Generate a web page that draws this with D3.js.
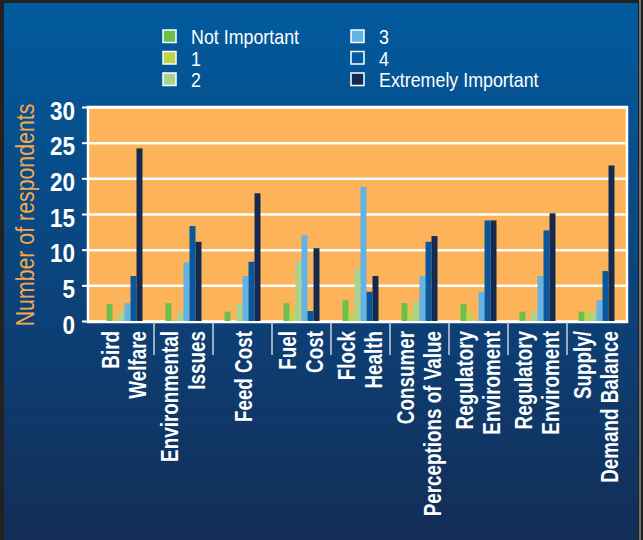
<!DOCTYPE html>
<html>
<head>
<meta charset="utf-8">
<script src="https://cdn.jsdelivr.net/npm/d3@7"></script>
<style>
  html, body { margin: 0; padding: 0; background: #222; }
  svg { display: block; }
  text { font-family: "Liberation Sans", Arial, sans-serif; }
</style>
</head>
<body>
<svg id="chart" width="643" height="540"></svg>
<script>
// Survey: importance of each factor, number of respondents per rating
const categories = [
  ["Bird", "Welfare"],
  ["Environmental", "Issues"],
  ["Feed Cost"],
  ["Fuel", "Cost"],
  ["Flock", "Health"],
  ["Consumer", "Perceptions of Value"],
  ["Regulatory", "Enviroment"],
  ["Regulatory", "Enviroment"],
  ["Supply/", "Demand Balance"]
];

const seriesNames = ["Not Important", "1", "2", "3", "4", "Extremely Important"];

const notImportant = [2.4, 2.5, 1.3, 2.5, 2.9, 2.5, 2.4, 1.3, 1.3];
const rating1      = [0.2, 0.2, 0.0, 1.4, 1.3, 1.3, 1.3, 0.2, 1.3];
const rating2      = [1.3, 1.3, 2.5, 8.4, 7.3, 2.8, 0.2, 1.3, 1.3];
const rating3      = [2.5, 8.2, 6.3, 12.0, 18.8, 6.3, 4.1, 6.3, 2.9];
const rating4      = [6.3, 13.3, 8.3, 1.4, 4.1, 11.1, 14.1, 12.7, 7.0];
const extremely    = [24.2, 11.1, 17.9, 10.2, 6.3, 11.9, 14.1, 15.1, 21.8];

const yTicks = [0, 5, 10, 15, 20, 25, 30];
const yTitle = "Number of respondents";

const seriesValues = [notImportant, rating1, rating2, rating3, rating4, extremely];
const seriesColors = ["#6cbf4a", "#bdd54a", "#a9d390", "#63b3e4", "#07589e", "#142a50"];

const W = 643, H = 540;
const plot = { left: 88, right: 627, top: 107, bottom: 321 };
const barWidth = 6;

const svg = d3.select("#chart");
const defs = svg.append("defs");
const grad = defs.append("linearGradient")
  .attr("id", "bg").attr("x1", 0).attr("y1", 0).attr("x2", 0).attr("y2", 1);
grad.append("stop").attr("offset", 0).attr("stop-color", "#015b9e");
grad.append("stop").attr("offset", 0.55).attr("stop-color", "#0c427a");
grad.append("stop").attr("offset", 1).attr("stop-color", "#132d56");

// dark outer frame and blue panel
svg.append("rect").attr("width", W).attr("height", H).attr("fill", "#222222");
svg.append("rect").attr("x", 4).attr("y", 3).attr("width", 634).attr("height", H - 3)
  .attr("fill", "url(#bg)");
svg.append("line").attr("x1", 640).attr("x2", 640).attr("y1", 0).attr("y2", H)
  .attr("stroke", "#8c8c8c").attr("stroke-width", 1.5);

// scales
const x = d3.scaleBand().domain(d3.range(categories.length)).range([95, 626]);
const nSeries = seriesNames.length;
const xs = d3.scaleBand().domain(d3.range(nSeries))
  .range([0, x.bandwidth()])
  .paddingOuter((x.bandwidth() / barWidth - nSeries) / 2);
const y = d3.scaleLinear().domain([0, 30]).range([plot.bottom, plot.top]);

// plot area
svg.append("rect")
  .attr("x", plot.left).attr("y", plot.top)
  .attr("width", plot.right - plot.left).attr("height", plot.bottom - plot.top)
  .attr("fill", "#fcb35a");

// gridlines
const grid = svg.append("g").attr("transform", `translate(${plot.left},0)`)
  .call(d3.axisLeft(y).tickValues(yTicks).tickSize(-(plot.right - plot.left)).tickFormat(""));
grid.select(".domain").remove();
grid.selectAll(".tick line").attr("stroke", "#ffffff").attr("stroke-width", 2.5);

// frame
svg.append("rect")
  .attr("x", plot.left).attr("y", plot.top)
  .attr("width", plot.right - plot.left).attr("height", plot.bottom - plot.top + 1)
  .attr("fill", "none").attr("stroke", "#ffffff").attr("stroke-width", 2.5);

// bars
const groups = svg.append("g").selectAll("g")
  .data(categories.map((c, i) => i))
  .join("g")
  .attr("transform", i => `translate(${x(i)},0)`);
groups.selectAll("rect")
  .data(i => seriesValues.map((vals, s) => ({ s, v: vals[i] })))
  .join("rect")
  .attr("x", d => xs(d.s))
  .attr("width", xs.bandwidth())
  .attr("y", d => y(d.v))
  .attr("height", d => y(0) - y(d.v))
  .attr("fill", d => seriesColors[d.s]);

// y axis ticks and labels
const yAxis = svg.append("g").attr("transform", `translate(${plot.left},0)`)
  .call(d3.axisLeft(y).tickValues(yTicks).tickSize(6).tickPadding(7));
yAxis.select(".domain").remove();
yAxis.selectAll(".tick line").attr("stroke", "#ffffff").attr("stroke-width", 2);
yAxis.selectAll(".tick text")
  .attr("x", null).attr("dy", null)
  .attr("transform", "translate(-13,12) scale(0.9,1)")
  .attr("text-anchor", "end")
  .attr("fill", "#ffffff")
  .attr("font-size", 25)
  .attr("font-weight", "bold");

// y axis title
svg.append("text")
  .attr("transform", `translate(34,${(plot.top + plot.bottom) / 2 + 1}) rotate(-90) scale(0.82,1)`)
  .attr("text-anchor", "middle")
  .attr("fill", "#f6a84a")
  .attr("font-size", 26)
  .text(yTitle);

// category dividers below the axis
svg.append("g").selectAll("line")
  .data(d3.range(1, categories.length))
  .join("line")
  .attr("x1", i => x(i)).attr("x2", i => x(i))
  .attr("y1", plot.bottom + 1).attr("y2", plot.bottom + 34)
  .attr("stroke", "#c9d2de").attr("stroke-width", 1.5);

// category labels, rotated
const labelTop = 331;
const labels = svg.append("g");
categories.forEach((lines, i) => {
  const c = x(i) + x.bandwidth() / 2;
  const offsets = lines.length === 1 ? [9] : [-6, 21.5];
  lines.forEach((ln, k) => {
    labels.append("text")
      .attr("transform", `translate(${c + offsets[k]},${labelTop}) rotate(-90) scale(0.82,1)`)
      .attr("text-anchor", "end")
      .attr("fill", "#ffffff")
      .attr("font-size", 23)
      .attr("font-weight", "bold")
      .text(ln);
  });
});

// legend
const legendCols = [163, 351];
const legendTop = 30, legendStep = 21.5;
const legend = svg.append("g").selectAll("g")
  .data(seriesNames)
  .join("g")
  .attr("transform", (d, i) => `translate(${legendCols[Math.floor(i / 3)]},${legendTop + (i % 3) * legendStep})`);
legend.append("rect")
  .attr("width", 13).attr("height", 12.5)
  .attr("fill", (d, i) => seriesColors[i])
  .attr("stroke", "#ffffff").attr("stroke-width", 1.5);
legend.append("text")
  .attr("transform", "translate(28,14) scale(0.85,1)")
  .attr("fill", "#ffffff")
  .attr("font-size", 21)
  .text(d => d);
</script>
</body>
</html>
